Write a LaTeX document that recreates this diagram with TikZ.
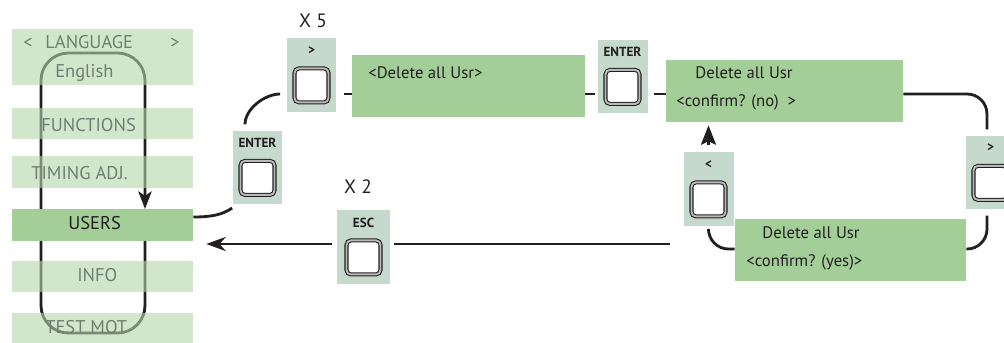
\documentclass[tikz,border=0pt]{standalone}
\usepackage{fontspec}
\setmainfont{PT Sans}
\usetikzlibrary{arrows.meta, positioning, backgrounds}

\definecolor{barfill}{RGB}{180,213,170}
\definecolor{boxfill}{RGB}{163,206,152}
\definecolor{panelfill}{RGB}{197,217,204}
\definecolor{bartext}{RGB}{112,126,112}
\definecolor{linecol}{RGB}{35,31,32}

\begin{document}
\begin{tikzpicture}[x=0.02cm, y=-0.02cm,
  menubar/.style={rectangle, fill=barfill, fill opacity=0.6, minimum width=3.62cm,
                  minimum height=0.63cm, inner sep=0pt},
  menutext/.style={anchor=base west, inner sep=0pt, text=bartext,
                   font=\fontsize{10.5}{12}\selectfont},
  lcdbox/.style={rectangle, fill=boxfill, minimum height=1.24cm, inner sep=0pt},
  lcdtext/.style={anchor=base west, inner sep=0pt, text=linecol,
                  font=\fontsize{9.5}{11}\selectfont},
  panel/.style={rectangle, fill=panelfill, minimum width=1.0cm,
                minimum height=1.47cm, inner sep=0pt},
  keylabel/.style={inner sep=0pt, text=linecol, font=\fontsize{7.5}{8}\selectfont\bfseries},
  keybtn/.style={rectangle, rounded corners=2.5pt, draw=linecol, line width=0.6pt,
                 double=gray!55, double distance=1.1pt, fill=white,
                 minimum size=0.68cm, inner sep=0pt},
  conn/.style={line width=1.6pt, draw=linecol},
  times/.style={inner sep=0pt, anchor=base, text=linecol, font=\fontsize{11}{12}\selectfont}
]
  \useasboundingbox (0,0) rectangle (1004,342);

  % menu column
  \node[menubar, minimum height=1.12cm] (language) at (102.5,57) {};
  \node[menubar] (functions) at (102.5,123.5) {};
  \node[menubar] (timing)    at (102.5,172) {};
  \node[menubar, fill=boxfill, fill opacity=1] (users) at (102.5,225) {};
  \node[menubar] (info)      at (102.5,276.5) {};
  \node[menubar] (testmot)   at (102.5,329) {};

  \node[menutext] (langl)   at (23,48)  {<};
  \node[menutext] (langt)   at (45,48)  {LANGUAGE};
  \node[menutext] (langr)   at (170,48) {>};
  \node[menutext] (english) at (55,77)  {English};
  \node[menutext] (functxt) at (41,131) {FUNCTIONS};
  \node[menutext] (timtxt)  at (31,179) {TIMING ADJ.};
  \node[menutext, text=linecol] (usrtxt) at (68,229) {USERS};
  \node[menutext] (infotxt) at (77,281) {INFO};
  \node[menutext] (testtxt) at (45,333) {TEST MOT};

  % scroll loop behind the bars
  \begin{scope}[on background layer]
    \draw[conn, rounded corners=0.55cm, -{Stealth[length=10pt, width=7.5pt, inset=2.5pt]}]
      (145,241) -- (145,333) -- (41,333) -- (41,53) -- (145,53) -- (145,209);
  \end{scope}

  % key panels
  \node[panel] (enterA) at (257.5,167.5) {};
  \node[keylabel] (enterAlab) at ([yshift=-0.25cm]enterA.north) {ENTER};
  \node[keybtn]   (enterAkey) at ([yshift=-0.95cm]enterA.north) {};

  \node[panel] (moveA) at (311.5,75) {};
  \node[keylabel] (moveAlab) at ([yshift=-0.25cm]moveA.north) {>};
  \node[keybtn]   (moveAkey) at ([yshift=-0.95cm]moveA.north) {};

  \node[panel] (enterB) at (622.5,76.5) {};
  \node[keylabel] (enterBlab) at ([yshift=-0.25cm]enterB.north) {ENTER};
  \node[keybtn]   (enterBkey) at ([yshift=-0.95cm]enterB.north) {};

  \node[panel] (moveR) at (990.5,172.5) {};
  \node[keylabel] (moveRlab) at ([yshift=-0.25cm]moveR.north) {>};
  \node[keybtn]   (moveRkey) at ([yshift=-0.95cm]moveR.north) {};

  \node[panel] (moveL) at (708.5,189) {};
  \node[keylabel] (moveLlab) at ([yshift=-0.25cm]moveL.north) {<};
  \node[keybtn]   (moveLkey) at ([yshift=-0.95cm]moveL.north) {};

  \node[panel, minimum width=1.06cm] (esc) at (363.5,247) {};
  \node[keylabel] (esclab) at ([yshift=-0.25cm]esc.north) {ESC};
  \node[keybtn]   (esckey) at ([yshift=-0.95cm]esc.north) {};

  \node[times] (xfive) at (313,27)  {X 5};
  \node[times] (xtwo)  at (358,193) {X 2};

  % display boxes
  \node[lcdbox, minimum width=4.66cm] (box1) at (468.5,86) {};
  \node[lcdbox, minimum width=4.74cm] (box2) at (784.5,91) {};
  \node[lcdbox, minimum width=4.62cm] (box3) at (850.5,250) {};

  \node[lcdtext] (box1a) at (368,78)  {<Delete all Usr>};
  \node[lcdtext] (box2a) at (695,78)  {Delete all Usr};
  \node[lcdtext] (box2b) at (676,106) {<confirm? (no)\ \ >};
  \node[lcdtext] (box3a) at (762,238) {Delete all Usr};
  \node[lcdtext] (box3b) at (746,266) {<confirm? (yes)>};

  % connectors
  \coordinate (rowA) at (0,94);
  \coordinate (rowC) at (0,249);
  \coordinate (escfrom) at (670,244);

  \draw[conn, shorten >=0.12cm] ([yshift=0.16cm]users.east)
    to[out=0, in=215] ([xshift=-0.41cm]enterA.south);
  \draw[conn, shorten <=0.12cm, shorten >=0.12cm] ([xshift=-0.25cm]enterA.north)
    to[out=90, in=180] (moveA.west |- rowA);
  \draw[conn, shorten <=0.14cm] (moveA.east |- rowA) -- (box1.west |- rowA);
  \draw[conn, shorten >=0.04cm] (box1.east |- rowA) -- (enterB.west |- rowA);
  \draw[conn, shorten <=0.12cm] (enterB.east |- rowA) -- (box2.west |- rowA);
  \draw[conn, rounded corners=0.4cm, shorten >=0.12cm]
    (box2.east |- rowA) -| ([xshift=-0.07cm]moveR.north);
  \draw[conn, rounded corners=0.4cm, shorten <=0.12cm]
    ([xshift=-0.07cm]moveR.south) |- (box3.east |- rowC);
  \draw[conn, rounded corners=0.4cm, shorten >=0.1cm]
    (box3.west |- rowC) -| (moveL.south);
  \draw[conn, -{Stealth[length=11pt, width=8.5pt, inset=2pt]}, shorten <=0.14cm, shorten >=0.06cm]
    (moveL.north) -- (moveL.north |- box2.south);
  \draw[conn, shorten >=0.08cm] (escfrom) -- (esc.east |- escfrom);
  \draw[conn, -{Stealth[length=11pt, width=8pt, inset=3.5pt]}, shorten <=0.1cm, shorten >=0.26cm]
    (esc.west |- escfrom) -- (users.east |- escfrom);
\end{tikzpicture}
\end{document}
